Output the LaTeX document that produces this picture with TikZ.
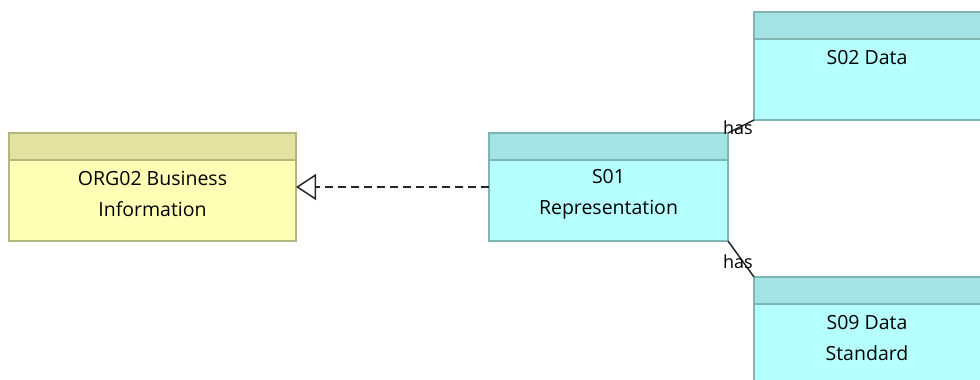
\documentclass[tikz,border=0pt]{standalone}
\usepackage{fontspec}
\setmainfont{Open Sans}
\usetikzlibrary{arrows.meta}
\definecolor{ybody}{HTML}{FFFFB5}
\definecolor{yhead}{HTML}{E3E3A1}
\definecolor{yline}{HTML}{B5B57F}
\definecolor{cbody}{HTML}{B5FFFF}
\definecolor{chead}{HTML}{A3E3E3}
\definecolor{cline}{HTML}{80B5B5}
\tikzset{
  elem/.style={line width=1.5pt},
  lbl/.style={font=\fontsize{19.5}{31}\selectfont, align=center, inner sep=0pt},
  haslbl/.style={font=\fontsize{18}{20}\selectfont, inner sep=0pt, text=black},
  conn/.style={line width=1.5pt, draw=black!85}
}
% element box: #1 name, #2 fill, #3 header fill, #4 border, (#5,#6) top-left, (#7,#8) bottom-right
\newcommand{\elembox}[8]{%
  \fill[#2] (#5,#6) rectangle (#7,#8);
  \fill[#3] (#5,#6) rectangle (#7,#6+27);
  \draw[elem,#4] (#5,#6+27) -- (#7,#6+27);
  \draw[elem,#4] (#5,#6) rectangle (#7,#8);
  \coordinate (#1-nw) at (#5,#6);
  \coordinate (#1-se) at (#7,#8);
}
\begin{document}
\begin{tikzpicture}[x=1pt,y=-1pt]
  \useasboundingbox (0,0) rectangle (980,380);
  \elembox{org}{ybody}{yhead}{yline}{9}{133}{296}{241}
  \elembox{rep}{cbody}{chead}{cline}{489}{133}{728}{241}
  \elembox{data}{cbody}{chead}{cline}{754}{12}{990}{120}
  \elembox{std}{cbody}{chead}{cline}{754}{277}{990}{390}
  \node[lbl] (orgt) at (152.5,194) {ORG02 Business\\Information};
  \node[lbl] (rept) at (608.5,194) {S01\\Representation};
  \node[lbl] (datat) at (867,58) {S02 Data};
  \node[lbl] (stdt) at (867,338) {S09 Data\\Standard};
  \coordinate (repw) at (489,187);
  \coordinate (orge) at (296,187);
  \coordinate (repne) at (728,133);
  \coordinate (datasw) at (754,120);
  \coordinate (repse) at (728,241);
  \coordinate (stdnw) at (754,277);
  \draw[conn, dash pattern=on 8pt off 5pt,
        -{Triangle[open,length=20pt,width=26pt,line width=1.5pt]}] (repw) -- (orge);
  \draw[conn] (repne) -- (datasw);
  \draw[conn] (repse) -- (stdnw);
  \node[haslbl] (has1) at (738,128) {has};
  \node[haslbl] (has2) at (738,262) {has};
\end{tikzpicture}
\end{document}
